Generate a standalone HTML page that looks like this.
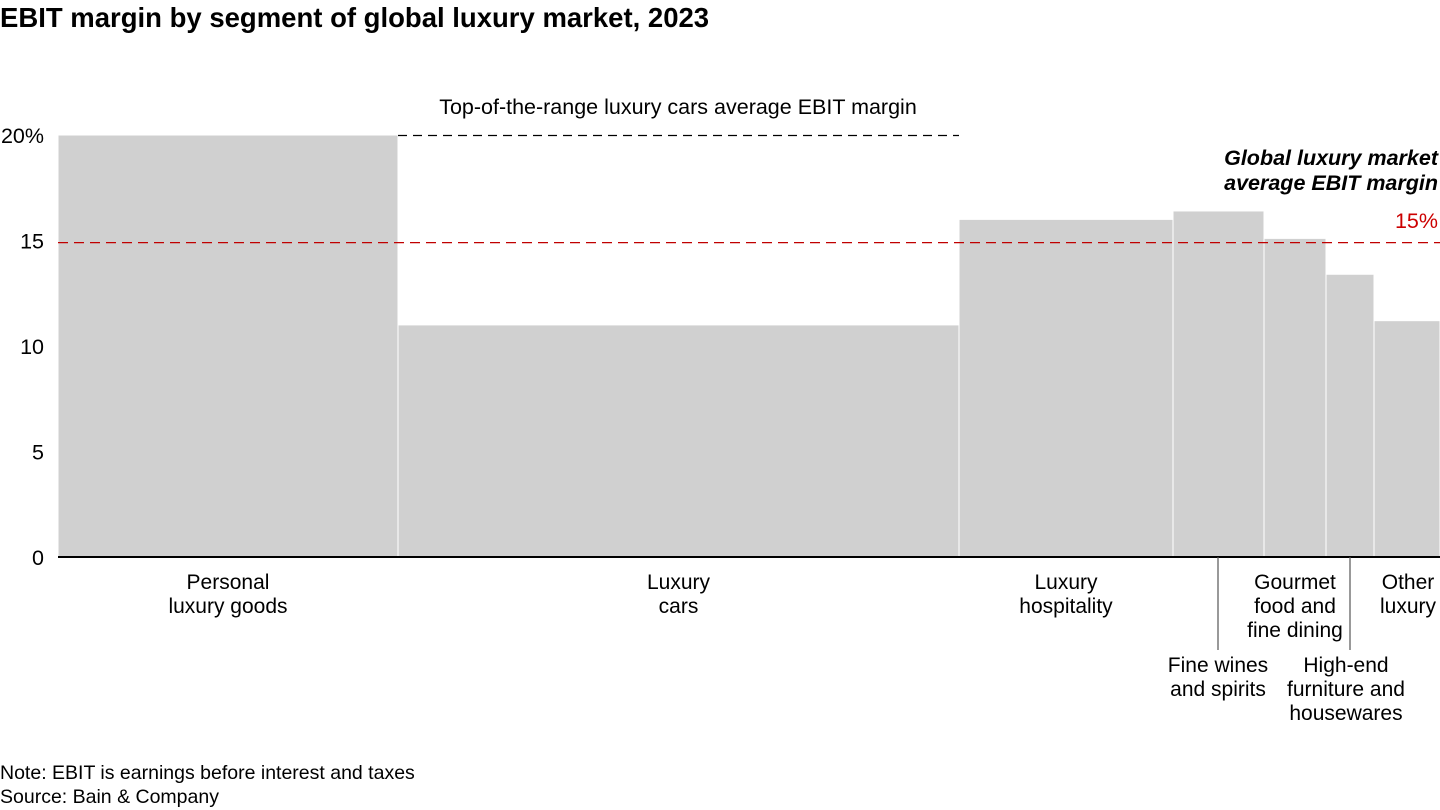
<!DOCTYPE html>
<html><head><meta charset="utf-8"><style>
body{margin:0;background:#fff;font-family:"Liberation Sans",Arial,sans-serif;}
svg{display:block}
text{font-family:"Liberation Sans",Arial,sans-serif;fill:#000}
</style></head><body>
<svg id="chart" width="1440" height="810">
<text x="0" y="27" font-size="27.5" font-weight="bold">EBIT margin by segment of global luxury market, 2023</text>
<g id="bars"></g><g id="ticks"></g><g id="labels"></g>
<text x="678" y="114" font-size="21.5" text-anchor="middle">Top-of-the-range luxury cars average EBIT margin</text>
<text x="1438" y="165" font-size="21.5" font-weight="bold" font-style="italic" text-anchor="end">Global luxury market</text>
<text x="1438" y="190" font-size="21.5" font-weight="bold" font-style="italic" text-anchor="end">average EBIT margin</text>
<text x="1438" y="228" font-size="21.5" fill="#cc0000" style="fill:#cc0000" text-anchor="end">15%</text>
<text x="0" y="779" font-size="19.5">Note: EBIT is earnings before interest and taxes</text>
<text x="0" y="803" font-size="19.5">Source: Bain &amp; Company</text>
</svg>
<script>
const categories=[["Personal","luxury goods"],["Luxury","cars"],["Luxury","hospitality"],["Fine wines","and spirits"],["Gourmet","food and","fine dining"],["High-end","furniture and","housewares"],["Other","luxury"]];
const segmentNames=["personal-luxury-goods","luxury-cars","luxury-hospitality","fine-wines-spirits","gourmet-food","high-end-furniture","other-luxury"];
const margins=[20,11,16,16.4,15.1,13.4,11.2];
const segmentSize=[340,561,214,91,62,48,66];
const yTicks=[0,5,10,15,20];
const yTickLabels=["0","5","10","15","20%"];
const carsAvg=20;
const globalAvg=14.9;

const NS="http://www.w3.org/2000/svg";
const X0=58,X1=1440,Y0=557,Y20=135;
const y=v=>Y0-(v/20)*(Y0-Y20);
const total=segmentSize.reduce((a,b)=>a+b,0);
const xs=[];let acc=0;segmentSize.forEach(s=>{xs.push(X0+acc/total*(X1-X0));acc+=s;});xs.push(X1);
function mk(tag,attrs,parent){const e=document.createElementNS(NS,tag);for(const k in attrs)e.setAttribute(k,attrs[k]);parent.appendChild(e);return e;}
const bars=document.getElementById('bars'),ticks=document.getElementById('ticks'),labels=document.getElementById('labels');
margins.forEach((m,i)=>{
 const r=mk('rect',{x:xs[i],y:y(m),width:xs[i+1]-xs[i],height:Y0-y(m),fill:'#d0d0d0',stroke:'#fff','stroke-width':1},bars);
 
 
});
const ax=mk('line',{x1:X0,x2:X1,y1:Y0,y2:Y0,stroke:'#000','stroke-width':2},ticks);


yTicks.forEach((t,i)=>{
 const tx=mk('text',{x:44,y:y(t)+8,'font-size':21.5,'text-anchor':'end'},ticks);tx.textContent=yTickLabels[i];
 
 
});
const cl=mk('line',{x1:xs[1],x2:xs[2],y1:y(carsAvg)+0.5,y2:y(carsAvg)+0.5,stroke:'#000','stroke-width':1.3,'stroke-dasharray':'9,6'},ticks);


const gl=mk('line',{x1:X0,x2:X1,y1:y(globalAvg),y2:y(globalAvg),stroke:'#c00000','stroke-width':1.3,'stroke-dasharray':'10,6'},ticks);


const leader=[false,false,false,true,false,true,false];
categories.forEach((lines,i)=>{
 let cx=(xs[i]+xs[i+1])/2, top=589;
 if(i===3){cx=1218;top=672;} if(i===5){cx=1346;top=672;}
 if(i===6) cx=1408;
 if(leader[i]){
  const lx=i===5?1350:cx;
  const l=mk('line',{x1:lx,x2:lx,y1:Y0,y2:650,stroke:'#555','stroke-width':1.2},labels);
  
  
 }
 lines.forEach((s,j)=>{
  const t=mk('text',{x:cx,y:top+j*24,'font-size':21,'text-anchor':'middle'},labels);t.textContent=s;
  
  
 });
});
</script>
</body></html>
